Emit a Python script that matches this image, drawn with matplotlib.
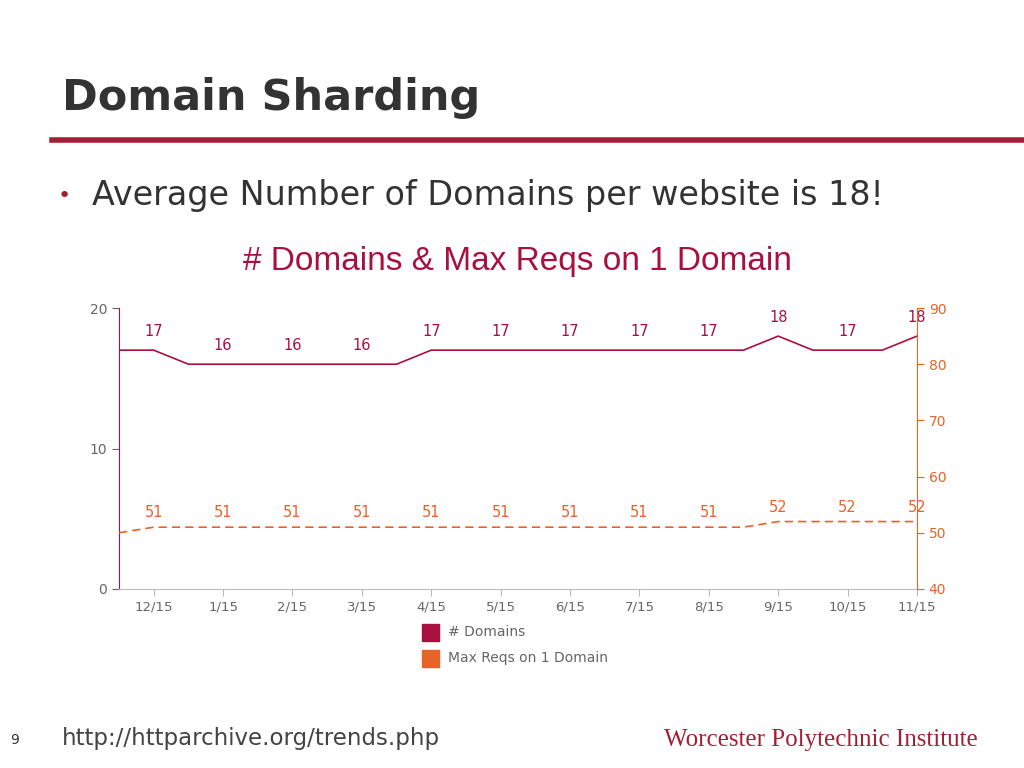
import numpy as np
import matplotlib.pyplot as plt

# half-month steps, labels on every other point
domains = [17, 17, 16, 16, 16, 16, 16, 16, 16, 17, 17, 17, 17, 17, 17, 17, 17, 17, 17, 18, 17, 17, 17, 18]
max_reqs = [50, 51, 51, 51, 51, 51, 51, 51, 51, 51, 51, 51, 51, 51, 51, 51, 51, 51, 51, 52, 52, 52, 52, 52]
month_labels = ["12/15", "1/15", "2/15", "3/15", "4/15", "5/15", "6/15", "7/15", "8/15", "9/15", "10/15", "11/15"]

RED = "#a8103e"
ORANGE = "#e8622a"
GREY = "#666666"
W, H = 1024, 768

fig = plt.figure(figsize=(10.24, 7.68), dpi=100)

# slide decorations
fig.text(62 / W, 1 - 98 / H, "Domain Sharding", fontsize=31, fontweight="bold", color="#333333", va="center",
         family="DejaVu Sans")
fig.add_artist(plt.Line2D([52 / W, 1.0], [1 - 140 / H] * 2, color="#a31f34", lw=4))
fig.text(58 / W, 1 - 196 / H, "•", fontsize=16, color="#a31f34", va="center")
fig.text(92 / W, 1 - 196 / H, "Average Number of Domains per website is 18!", fontsize=24, color="#333333",
         va="center", family="DejaVu Sans")
fig.text(517 / W, 1 - 262 / H, "# Domains & Max Reqs on 1 Domain", fontsize=24, color=RED, ha="center",
         va="center", family="Liberation Sans")
fig.text(10 / W, 1 - 740 / H, "9", fontsize=10, color="#333333", va="center")
fig.text(62 / W, 1 - 738 / H, "http://httparchive.org/trends.php", fontsize=16.5, color="#444444", va="center")
fig.text(978 / W, 1 - 740 / H, "Worcester Polytechnic Institute", fontsize=18, color="#a31f34", ha="right",
         va="center", family="Liberation Serif")

ax = fig.add_axes([119 / W, 1 - 589 / H, 798 / W, 281 / H])
x = np.arange(len(domains))
ax.plot(x, domains, color=RED, lw=1.2)
ax.set_ylim(0, 20)
ax.set_xlim(0, len(domains) - 1)
ax.set_yticks([0, 10, 20])
ax.tick_params(axis="y", colors=GREY, labelsize=10, length=5)
ax.spines["left"].set_color(RED)
ax.spines["top"].set_visible(False)
ax.spines["right"].set_visible(False)
ax.spines["bottom"].set_color("#bbbbbb")
ax.set_xticks(x[1::2])
ax.set_xticklabels(month_labels)
ax.tick_params(axis="x", colors="#bbbbbb", labelcolor=GREY, labelsize=9.5, length=5)
for i in x[1::2]:
    ax.annotate(str(domains[i]), (i, domains[i]), xytext=(0, 8), textcoords="offset points",
                ha="center", va="bottom", color=RED, fontsize=10.5)

ax2 = ax.twinx()
ax2.plot(x, max_reqs, color=ORANGE, lw=1.2, ls=(0, (5, 3)))
ax2.set_ylim(40, 90)
ax2.set_yticks([40, 50, 60, 70, 80, 90])
ax2.tick_params(axis="y", colors=ORANGE, labelsize=10, length=5)
for s in ["left", "top", "bottom"]:
    ax2.spines[s].set_visible(False)
ax2.spines["right"].set_color(ORANGE)
for i in x[1::2]:
    ax2.annotate(str(max_reqs[i]), (i, max_reqs[i]), xytext=(0, 5), textcoords="offset points",
                 ha="center", va="bottom", color=ORANGE, fontsize=10.5)

# legend
for yy, col, lab in [(632, RED, "# Domains"), (658, ORANGE, "Max Reqs on 1 Domain")]:
    fig.add_artist(plt.Rectangle((422 / W, 1 - (yy + 9) / H), 17 / W, 17 / H, color=col))
    fig.text(448 / W, 1 - yy / H, lab, fontsize=10, color=GREY, va="center")

fig.savefig("out.png", dpi=100)
